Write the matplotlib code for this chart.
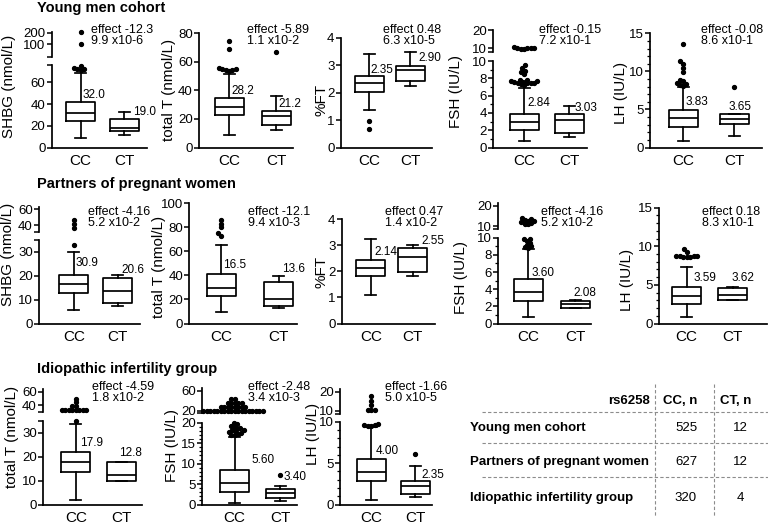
import numpy as np
import matplotlib
matplotlib.use('Agg')
import matplotlib.pyplot as plt
from matplotlib.ticker import MultipleLocator

plt.rcParams['font.family'] = ['Liberation Sans', 'DejaVu Sans']

groups = ['CC', 'CT']

# ---------------- data: box stats = [whislo, q1, median, q3, whishi] ----------------
# Young men cohort
ym_shbg_cc = [9.1, 24.7, 31.4, 42.0, 68.5]
ym_shbg_ct = [11.6, 15.5, 18.0, 26.2, 32.3]
ym_shbg_out_cc = [71, 72, 72.5, 73.5, 75.5]
ym_shbg_hi_cc = [104, 205]
ym_shbg_lab = ['32.0', '19.0']
ym_shbg_eff = ['effect -12.3', '9.9 x10-6']

ym_tt_cc = [9.0, 23.0, 28.3, 34.6, 51.5]
ym_tt_ct = [12.0, 15.8, 21.8, 25.7, 35.7]
ym_tt_out_cc = [53.5, 54, 54, 54.5, 55, 55.5, 68.7, 74.6]
ym_tt_out_ct = [67]
ym_tt_lab = ['28.2', '21.2']
ym_tt_eff = ['effect -5.89', '1.1 x10-2']

ym_ft_cc = [1.35, 2.04, 2.36, 2.59, 3.40]
ym_ft_ct = [2.23, 2.42, 2.84, 2.97, 3.49]
ym_ft_out_cc = [0.67, 0.95]
ym_ft_lab = ['2.35', '2.90']
ym_ft_eff = ['effect 0.48', '6.3 x10-5']

ym_fsh_cc = [0.7, 2.0, 2.94, 3.88, 6.9]
ym_fsh_ct = [1.25, 1.65, 3.18, 3.88, 4.8]
ym_fsh_out_cc = [7.2, 7.3, 7.4, 7.4, 7.5, 7.5, 7.6, 7.6, 7.7, 7.7, 7.8, 7.8, 8.5, 8.7, 8.9, 9.2, 9.5]
ym_fsh_hi_cc = [9.8, 9.9, 10.0, 10.0, 10.1, 10.2, 10.5]
ym_fsh_lab = ['2.84', '3.03']
ym_fsh_eff = ['effect -0.15', '7.2 x10-1']

ym_lh_cc = [0.89, 2.69, 3.84, 4.89, 7.91]
ym_lh_ct = [1.51, 3.09, 3.75, 4.40, 4.45]
ym_lh_out_cc = [8.1, 8.2, 8.3, 8.5, 8.7, 8.9, 9.9, 10.4, 11.0, 11.3, 13.6]
ym_lh_out_ct = [7.9]
ym_lh_lab = ['3.83', '3.65']
ym_lh_eff = ['effect -0.08', '8.6 x10-1']

# Partners of pregnant women
pp_shbg_cc = [5.8, 12.7, 16.6, 20.3, 30.0]
pp_shbg_ct = [7.5, 8.6, 13.8, 19.0, 20.3]
pp_shbg_out_cc = [33]
pp_shbg_hi_cc = [37, 42, 47]
pp_shbg_lab = ['30.9', '20.6']
pp_shbg_eff = ['effect -4.16', '5.2 x10-2']

pp_tt_cc = [9.8, 22.9, 29.3, 40.9, 65.3]
pp_tt_ct = [12.9, 14.6, 20.1, 34.8, 39.8]
pp_tt_out_cc = [73, 75, 80, 83, 86]
pp_tt_lab = ['16.5', '13.6']
pp_tt_eff = ['effect -12.1', '9.4 x10-3']

pp_ft_cc = [1.08, 1.82, 2.11, 2.43, 3.24]
pp_ft_ct = [1.82, 1.98, 2.54, 2.90, 3.02]
pp_ft_lab = ['2.14', '2.55']
pp_ft_eff = ['effect 0.47', '1.4 x10-2']

pp_fsh_cc = [0.76, 2.62, 3.67, 5.15, 8.65]
pp_fsh_ct = [1.75, 1.84, 2.24, 2.62, 2.70]
pp_fsh_out_cc = [8.8, 8.9, 9.0, 9.2, 9.4, 9.6, 9.8, 9.9]
pp_fsh_hi_cc = [11.0, 11.3, 11.6, 12.0, 12.4, 12.8, 13.2, 13.7, 14.0]
pp_fsh_lab = ['3.60', '2.08']
pp_fsh_eff = ['effect -4.16', '5.2 x10-2']

pp_lh_cc = [0.88, 2.49, 3.60, 4.69, 7.36]
pp_lh_ct = [3.00, 3.04, 3.69, 4.56, 4.70]
pp_lh_out_cc = [8.6, 8.6, 8.6, 8.7, 8.7, 8.7, 8.8, 9.3, 9.6]
pp_lh_lab = ['3.59', '3.62']
pp_lh_eff = ['effect 0.18', '8.3 x10-1']

# Idiopathic infertility group
ii_tt_cc = [1.7, 13.7, 17.7, 22.0, 33.6]
ii_tt_ct = [9.9, 10.0, 12.1, 17.9, 17.9]
ii_tt_out_cc = [34.8]
ii_tt_hi_cc = [32.5, 32.5, 32.5, 32.5, 32.5, 32.5, 32.5, 32.5, 38.5, 39, 44, 50]
ii_tt_lab = ['17.9', '12.8']
ii_tt_eff = ['effect -4.59', '1.8 x10-2']

ii_fsh_cc = [0.4, 3.1, 5.2, 8.4, 16.6]
ii_fsh_ct = [0.9, 1.6, 2.9, 3.8, 4.5]
ii_fsh_out_cc = [16.9, 17.1, 17.3, 17.5, 17.7, 17.9, 18.1, 18.3, 18.5, 18.8, 19.0, 19.3, 19.6, 19.9]
ii_fsh_out_ct = [7.2]
ii_fsh_hi_cc = [20, 20, 20, 20, 20, 20, 20, 20, 20, 20, 20, 20, 20, 20, 20, 20, 20, 20,
                28, 28, 28, 28, 28, 28, 28, 28, 36, 36, 36, 36, 36, 44, 44]
ii_fsh_lab = ['5.60', '3.40']
ii_fsh_eff = ['effect -2.48', '3.4 x10-3']

ii_lh_cc = [0.5, 2.8, 3.95, 5.5, 9.3]
ii_lh_ct = [0.9, 1.25, 2.25, 2.8, 4.6]
ii_lh_out_cc = [9.5, 9.5, 9.6, 9.6, 9.7]
ii_lh_out_ct = [6.1]
ii_lh_hi_cc = [10.5, 10.5, 10.5, 13.0, 15.3, 17.5]
ii_lh_lab = ['4.00', '2.35']
ii_lh_eff = ['effect -1.66', '5.0 x10-5']

# summary table
cohorts = ['Young men cohort', 'Partners of pregnant women', 'Idiopathic infertility group']
n_cc = [525, 627, 320]
n_ct = [12, 12, 4]

# ---------------- layout (pixels) ----------------
W, H = 768, 525
fig = plt.figure(figsize=(W / 100, H / 100), dpi=100)
LW = 1.25


def px_axes(l, t, r, b):
    return fig.add_axes([l / W, 1 - b / H, (r - l) / W, (b - t) / H])


def swarm(ax, pos, values, d=3.5):
    if len(values) == 0:
        return [], []
    vals = sorted(values)
    tr = ax.transData
    sx = tr.transform((1, 0))[0] - tr.transform((0, 0))[0]
    placed = []
    for v in vals:
        y = tr.transform((pos, v))[1]
        ivs = []
        for (px, py) in placed:
            dy = abs(py - y)
            if dy < d:
                h = np.sqrt(d * d - dy * dy)
                ivs.append((px - h, px + h))
        cands = sorted([0.0] + [e for iv in ivs for e in iv], key=lambda c: (abs(c), c))
        x = 0.0
        for c in cands:
            if all(not (a + 1e-6 < c < b - 1e-6) for a, b in ivs):
                x = c
                break
        placed.append((x, y))
    return [pos + p[0] / sx for p in placed], vals


def dots(ax, pos, values):
    xs, ys = swarm(ax, pos, values)
    if xs:
        ax.plot(xs, ys, 'o', ms=2.8, color='k', mec='k', clip_on=False, zorder=5)


def style_y(ax):
    ax.spines['left'].set_linewidth(LW)
    ax.tick_params(axis='y', which='major', direction='out', length=3.5, width=1.1,
                   pad=1, labelsize=9.5)
    ax.tick_params(axis='y', which='minor', direction='out', length=2, width=0.9)


panels = [
    # ---- Young men cohort ----
    dict(L=51.7, R=147, c1=80.5, c2=124, bot=147.5, top=65, ylim=(0, 76), ticks=[0, 20, 40, 60], end=True,
         upper=(31.7, 56.7), uylim=(-9, 209), uticks=[100, 200],
         cc=ym_shbg_cc, ct=ym_shbg_ct, out_cc=ym_shbg_out_cc, out_ct=[], hi_cc=ym_shbg_hi_cc,
         ylabel='SHBG (nmol/L)', ylab=(9, 86), eff=ym_shbg_eff, effxy=(90.7, 30),
         lab=ym_shbg_lab, labxy=[(1.05, 48.4), (2.21, 33)]),
    dict(L=199, R=293, c1=229, c2=276, bot=147.5, top=33, ylim=(0, 80), ticks=[0, 20, 40, 60, 80],
         cc=ym_tt_cc, ct=ym_tt_ct, out_cc=ym_tt_out_cc, out_ct=ym_tt_out_ct,
         ylabel='total T (nmol/L)', ylab=(169, 90), eff=ym_tt_eff, effxy=(247, 30),
         lab=ym_tt_lab, labxy=[(1.05, 39.7), (2.06, 30.2)]),
    dict(L=340.7, R=432, c1=369, c2=410, bot=147.5, top=37.7, ylim=(0, 4), ticks=[0, 1, 2, 3, 4],
         cc=ym_ft_cc, ct=ym_ft_ct, out_cc=ym_ft_out_cc, out_ct=[],
         ylabel='%FT', ylab=(321, 100), eff=ym_ft_eff, effxy=(383.3, 30),
         lab=ym_ft_lab, labxy=[(1.04, 2.82), (2.2, 3.26)]),
    dict(L=493.3, R=587, c1=524, c2=569, bot=147.5, top=61, ylim=(0, 10), ticks=[0, 2, 4, 6, 8, 10], minor=1,
         upper=(30, 52), uylim=(8, 20.2), uticks=[10, 20],
         cc=ym_fsh_cc, ct=ym_fsh_ct, out_cc=ym_fsh_out_cc, out_ct=[], hi_cc=ym_fsh_hi_cc,
         ylabel='FSH (IU/L)', ylab=(456, 92), eff=ym_fsh_eff, effxy=(539.3, 30),
         lab=ym_fsh_lab, labxy=[(1.07, 5.2), (2.13, 4.6)]),
    dict(L=650, R=762, c1=683, c2=734, bot=147.5, top=33.3, ylim=(0, 15), ticks=[0, 5, 10, 15], minor=1,
         cc=ym_lh_cc, ct=ym_lh_ct, out_cc=ym_lh_out_cc, out_ct=ym_lh_out_ct,
         ylabel='LH (IU/L)', ylab=(621, 93), eff=ym_lh_eff, effxy=(700.7, 30),
         lab=ym_lh_lab, labxy=[(1.04, 5.94), (1.9, 5.28)]),
    # ---- Partners of pregnant women ----
    dict(L=39, R=140, c1=73.8, c2=117.5, bot=323.5, top=240, ylim=(0, 35), ticks=[0, 10, 20, 30], end=True,
         upper=(207, 231.7), uylim=(32, 63), uticks=[40, 60],
         cc=pp_shbg_cc, ct=pp_shbg_ct, out_cc=pp_shbg_out_cc, out_ct=[], hi_cc=pp_shbg_hi_cc,
         ylabel='SHBG (nmol/L)', ylab=(8.5, 254), eff=pp_shbg_eff, effxy=(87.7, 211.7),
         lab=pp_shbg_lab, labxy=[(1.03, 25.2), (2.1, 22.4)]),
    dict(L=189.3, R=296.7, c1=221, c2=278.7, bot=323.5, top=203.3, ylim=(0, 100), ticks=[0, 20, 40, 60, 80, 100],
         cc=pp_tt_cc, ct=pp_tt_ct, out_cc=pp_tt_out_cc, out_ct=[],
         ylabel='total T (nmol/L)', ylab=(159, 267), eff=pp_tt_eff, effxy=(248, 211.7),
         lab=pp_tt_lab, labxy=[(1.03, 48.7), (2.05, 45.1)]),
    dict(L=341.7, R=435, c1=370.8, c2=412.5, bot=323.5, top=219, ylim=(0, 4), ticks=[0, 1, 2, 3, 4],
         cc=pp_ft_cc, ct=pp_ft_ct, out_cc=[], out_ct=[],
         ylabel='%FT', ylab=(321, 272), eff=pp_ft_eff, effxy=(385, 211.7),
         lab=pp_ft_lab, labxy=[(1.08, 2.75), (2.22, 3.16)]),
    dict(L=498.3, R=590.7, c1=528, c2=575.3, bot=323.5, top=237.7, ylim=(0, 10), ticks=[0, 2, 4, 6, 8, 10], minor=1,
         upper=(203, 229), uylim=(8.7, 21.4), uticks=[10, 20],
         cc=pp_fsh_cc, ct=pp_fsh_ct, out_cc=pp_fsh_out_cc, out_ct=[], hi_cc=pp_fsh_hi_cc,
         ylabel='FSH (IU/L)', ylab=(461, 278), eff=pp_fsh_eff, effxy=(540.7, 211.7),
         lab=pp_fsh_lab, labxy=[(1.08, 5.92), (1.96, 3.59)]),
    dict(L=659.3, R=767, c1=686.7, c2=732.5, bot=323.5, top=207.7, ylim=(0, 15), ticks=[0, 5, 10, 15], minor=1,
         cc=pp_lh_cc, ct=pp_lh_ct, out_cc=pp_lh_out_cc, out_ct=[],
         ylabel='LH (IU/L)', ylab=(627, 280), eff=pp_lh_eff, effxy=(702.3, 211.7),
         lab=pp_lh_lab, labxy=[(1.15, 5.85), (1.98, 5.85)]),
    # ---- Idiopathic infertility group ----
    dict(L=43, R=142, c1=75.8, c2=121, bot=504.5, top=420.5, ylim=(0, 35), ticks=[0, 10, 20, 30], end=True,
         upper=(389, 412), uylim=(29.4, 64.5), uticks=[40, 60],
         cc=ii_tt_cc, ct=ii_tt_ct, out_cc=ii_tt_out_cc, out_ct=[], hi_cc=ii_tt_hi_cc,
         ylabel='total T (nmol/L)', ylab=(12.5, 437), eff=ii_tt_eff, effxy=(91.7, 387),
         lab=ii_tt_lab, labxy=[(1.09, 25.75), (1.96, 21.3)]),
    dict(L=202.3, R=296.7, c1=234.7, c2=280, bot=504.5, top=422.7, ylim=(0, 20), ticks=[0, 5, 10, 15, 20], minor=1,
         upper=(388, 413), uylim=(16, 65.4), uticks=[20, 60],
         cc=ii_fsh_cc, ct=ii_fsh_ct, out_cc=ii_fsh_out_cc, out_ct=ii_fsh_out_ct, hi_cc=ii_fsh_hi_cc,
         ylabel='FSH (IU/L)', ylab=(172, 445), eff=ii_fsh_eff, effxy=(248, 387),
         lab=ii_fsh_lab, labxy=[(1.37, 10.9), (2.07, 6.65)]),
    dict(L=340, R=431.7, c1=371.3, c2=415.3, bot=504.5, top=421.7, ylim=(0, 10), ticks=[0, 5, 10], minor=1,
         upper=(389, 414), uylim=(8.3, 21.4), uticks=[10, 20],
         cc=ii_lh_cc, ct=ii_lh_ct, out_cc=ii_lh_out_cc, out_ct=ii_lh_out_ct, hi_cc=ii_lh_hi_cc,
         ylabel='LH (IU/L)', ylab=(312.5, 434), eff=ii_lh_eff, effxy=(385, 387),
         lab=ii_lh_lab, labxy=[(1.1, 6.46), (2.14, 3.56)]),
]

ov = fig.add_axes([0, 0, 1, 1], zorder=10)
ov.set_xlim(0, W)
ov.set_ylim(H, 0)
ov.axis('off')

for p in panels:
    sp = p['c2'] - p['c1']
    x0 = 1 - (p['c1'] - p['L']) / sp
    x1 = 2 + (p['R'] - p['c2']) / sp
    ax = px_axes(p['L'], p['top'], p['R'], p['bot'])
    ax.set_xlim(x0, x1)
    ax.set_ylim(*p['ylim'])
    for s in ['top', 'right']:
        ax.spines[s].set_visible(False)
    ax.spines['bottom'].set_linewidth(LW)
    style_y(ax)
    ticks = list(p['ticks'])
    labels = [f'{t:g}' for t in ticks]
    if p.get('end'):
        ticks.append(p['ylim'][1])
        labels.append('')
    ax.set_yticks(ticks, labels)
    if p.get('minor'):
        ax.yaxis.set_minor_locator(MultipleLocator(p['minor']))
    ax.set_xticks([1, 2], groups)
    ax.tick_params(axis='x', length=0, pad=4.5, labelsize=11)

    stats = []
    for s in (p['cc'], p['ct']):
        stats.append(dict(whislo=s[0], q1=s[1], med=s[2], q3=s[3], whishi=s[4], fliers=[]))
    props = dict(color='k', lw=LW)
    ax.bxp(stats, positions=[1, 2], widths=29 / sp, capwidths=11 / sp, showfliers=False,
           boxprops=props, medianprops=props, whiskerprops=props, capprops=props,
           manage_ticks=False)
    dots(ax, 1, p['out_cc'])
    dots(ax, 2, p['out_ct'])
    for txt, (lx, ly) in zip(p['lab'], p['labxy']):
        ax.text(lx, ly, txt, fontsize=8.5, ha='left', va='center')

    if 'upper' in p:
        ut, ub = p['upper']
        ua = px_axes(p['L'], ut, p['R'], ub)
        ua.set_xlim(x0, x1)
        ua.set_ylim(*p['uylim'])
        for s in ['top', 'right', 'bottom']:
            ua.spines[s].set_visible(False)
        ua.patch.set_visible(False)
        style_y(ua)
        ut_ticks = [p['uylim'][0]] + list(p['uticks'])
        ua.set_yticks(ut_ticks, [''] + [f'{t:g}' for t in p['uticks']])
        ua.set_xticks([])
        dots(ua, 1, p.get('hi_cc', []))

    ov.text(p['ylab'][0], p['ylab'][1], p['ylabel'], rotation=90, ha='center', va='center',
            fontsize=11)
    ex, ey = p['effxy']
    ov.text(ex, ey, p['eff'][0], fontsize=9, ha='left', va='center')
    ov.text(ex, ey + 11, p['eff'][1], fontsize=9, ha='left', va='center')

# cohort titles
for title, (tx, ty) in zip(cohorts, [(37, 8), (37, 184), (37, 369.5)]):
    ov.text(tx, ty, title, fontsize=10.5, fontweight='bold', ha='left', va='center')

# summary table
dash = dict(color='#8c8c8c', lw=0.8, ls=(0, (3, 2)))
for yl in (412.3, 442.7, 476.7):
    ov.plot([481.7, 768], [yl, yl], **dash)
for xl in (655, 714):
    ov.plot([xl, xl], [384, 516], **dash)
ov.text(650, 400.7, 'rs6258', fontsize=9.5, fontweight='bold', ha='right', va='center')
ov.text(680, 400.7, 'CC, n', fontsize=9.5, fontweight='bold', ha='center', va='center')
ov.text(736, 400.7, 'CT, n', fontsize=9.5, fontweight='bold', ha='center', va='center')
for name, a, b, ry in zip(cohorts, n_cc, n_ct, (428.3, 461.7, 498.3)):
    ov.text(470, ry, name, fontsize=9.5, fontweight='bold', ha='left', va='center')
    ov.text(686, ry, str(a), fontsize=9.5, ha='center', va='center')
    ov.text(740.7, ry, str(b), fontsize=9.5, ha='center', va='center')

fig.savefig('out.png', dpi=100)
